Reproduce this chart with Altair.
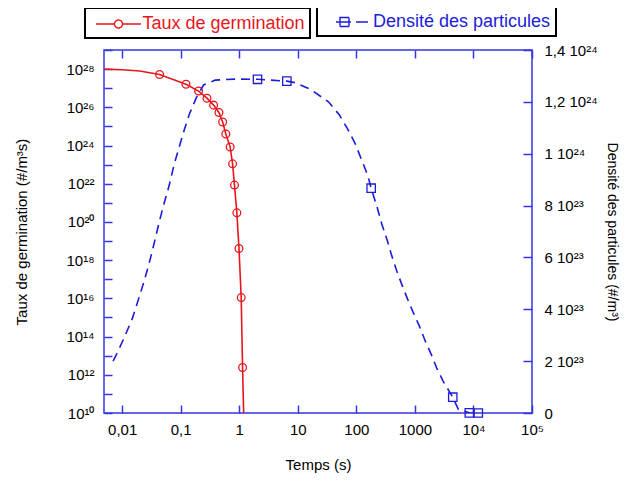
import altair as alt
import pandas as pd

# ---------------- data ----------------
red_t = [0.0049, 0.01, 0.02, 0.0436, 0.123, 0.202, 0.281, 0.365, 0.45, 0.52,
         0.59, 0.70, 0.77, 0.83, 0.91, 0.99, 1.08, 1.14, 1.19]
red_g = [1.0e28, 9.3e27, 7.9e27, 5.2e27, 1.6e27, 7.1e26, 3.0e26, 1.3e26, 5.4e25, 1.7e25,
         4.0e24, 8.3e23, 1.1e23, 8.5e21, 3.0e20, 4.1e18, 1.1e16, 2.4e12, 1.0e10]
red_mark = [0, 0, 0, 1, 1, 1, 1, 1, 1, 1,
            1, 1, 1, 1, 1, 1, 1, 1, 0]

blue_t = [0.0070, 0.0085, 0.0108, 0.0148, 0.0188, 0.0238, 0.0296, 0.0357, 0.0431, 0.0527,
          0.064, 0.0776, 0.096, 0.117, 0.142, 0.185, 0.246, 0.39, 0.91, 2.05,
          6.5, 9.0, 16.3, 33.4, 51.5, 71.6, 95.5, 124, 157, 179,
          229, 272, 339, 403, 490, 597, 744, 942, 1194, 1512,
          1910, 2363, 3063, 4434, 5523, 8500, 12100]
blue_n = [2.0e23, 2.38e23, 2.9e23, 3.62e23, 4.35e23, 5.09e23, 5.86e23, 6.6e23, 7.38e23, 8.13e23,
          8.8e23, 9.6e23, 1.032e24, 1.097e24, 1.155e24, 1.216e24, 1.265e24, 1.284e24, 1.288e24, 1.287e24,
          1.28e24, 1.274e24, 1.249e24, 1.2e24, 1.149e24, 1.094e24, 1.039e24, 9.74e23, 9.16e23, 8.67e23,
          7.9e23, 7.29e23, 6.64e23, 6.06e23, 5.48e23, 4.96e23, 4.41e23, 3.86e23, 3.35e23, 2.76e23,
          2.25e23, 1.73e23, 1.21e23, 6.1e22, 1.4e22, 5.0e20, 1.0e19]
blue_mark = [0, 0, 0, 0, 0, 0, 0, 0, 0, 0,
             0, 0, 0, 0, 0, 0, 0, 0, 0, 1,
             1, 0, 0, 0, 0, 0, 0, 0, 0, 1,
             0, 0, 0, 0, 0, 0, 0, 0, 0, 0,
             0, 0, 0, 1, 0, 1, 1]

x_ticks = [0.01, 0.1, 1, 10, 100, 1000, 1e4, 1e5]
y_left_ticks = [1e10, 1e11, 1e12, 1e13, 1e14, 1e15, 1e16, 1e17, 1e18, 1e19,
                1e20, 1e21, 1e22, 1e23, 1e24, 1e25, 1e26, 1e27, 1e28, 1e29]
y_right_ticks = [0, 2e23, 4e23, 6e23, 8e23, 1e24, 1.2e24, 1.4e24]

RED_NAME = "Taux de germination"
BLUE_NAME = "Densité des particules"

red_df = pd.DataFrame({"t": red_t, "g": red_g, "m": red_mark, "serie": RED_NAME})
blue_df = pd.DataFrame({"t": blue_t, "n": blue_n, "m": blue_mark, "serie": BLUE_NAME})

# ---------------- style ----------------
RED = "#e8161b"
BLUE = "#1c1cd8"
AXIS_BLUE = "#3434e0"
FONT = "Liberation Sans"

SUP = "['⁰','¹','²','³','⁴','⁵','⁶','⁷','⁸','⁹']"
E = "round(log(datum.value)/LN10)"
left_expr = f"{E} % 2 == 0 ? '10' + {SUP}[floor({E}/10)] + {SUP}[{E} % 10] : ''"
M = "round(datum.value/1e23)"
right_expr = (f"{M} == 0 ? '0' : {M} < 10 ? {M} + ' 10²³' : "
              f"replace(format({M}/10, '.1~f'), '.', ',') + ' 10²⁴'")
x_expr = ("datum.value < 0.05 ? '0,01' : datum.value < 0.5 ? '0,1' : "
          "datum.value < 5000 ? format(datum.value, 'd') : "
          "datum.value < 50000 ? '10⁴' : '10⁵'")

tick_style = dict(domain=False, grid=False, tickColor=AXIS_BLUE, tickWidth=1.5)
text_style = dict(labelFont=FONT, labelFontSize=15, labelColor="black",
                  titleFont=FONT, titleFontSize=15, titleFontWeight="normal",
                  titleColor="black", labelFlush=False, labelOverlap=False)

ax_bottom = alt.Axis(orient="bottom", values=x_ticks, labelExpr=x_expr, title="Temps (s)",
                     offset=-8, tickSize=8, labelPadding=9, titlePadding=20,
                     **tick_style, **text_style)
ax_top = alt.Axis(orient="top", values=x_ticks, labels=False, title=None,
                  offset=-8, tickSize=8, **tick_style)
ax_left = alt.Axis(orient="left", values=y_left_ticks, labelExpr=left_expr,
                   title="Taux de germination (#/m³s)", offset=-8, tickSize=8,
                   labelPadding=10, titlePadding=36, **tick_style, **text_style)
ax_right = alt.Axis(orient="right", values=y_right_ticks, labelExpr=right_expr,
                    title="Densité des particules (#/m³)", offset=-9, tickSize=9,
                    labelPadding=12, titlePadding=7,
                    **tick_style, **{**text_style, "titleFontSize": 14})

x_scale = alt.Scale(type="log", domain=[0.0049, 1e5], nice=False)
yl_scale = alt.Scale(type="log", domain=[1e10, 1e29], nice=False)
yr_scale = alt.Scale(domain=[0, 1.4e24], nice=False, zero=True)

RED_PATH = "M-2.25,0H-0.4M0.4,0H2.25M-0.4,0A0.4,0.4,0,1,1,0.4,0A0.4,0.4,0,1,1,-0.4,0Z"
BLUE_PATH = "M-1.6,0H-1.2M-0.3,0H-0.1M0.4,0H1.6M-1.2,-0.45H-0.3V0.45H-1.2ZM-1.2,0H-0.3"

legend_common = dict(title=None, orient="none", direction="vertical",
                     strokeColor="black", fillColor="white",
                     padding=5, cornerRadius=0, symbolSize=400, symbolStrokeWidth=1.4,
                     symbolFillColor="white", symbolDash=[1, 0],
                     labelFont=FONT, labelFontSize=18, labelLimit=400)

leg_red = alt.Legend(legendX=-19, legendY=-42, symbolType=RED_PATH, symbolOffset=17.5,
                     labelOffset=13, labelColor=RED, **legend_common)
leg_blue = alt.Legend(legendX=213, legendY=-44, symbolType=BLUE_PATH, symbolOffset=19,
                      labelOffset=10, labelColor=BLUE, **legend_common)

X_b = alt.X("t:Q", scale=x_scale, axis=ax_bottom)
X_t = alt.X("t:Q", scale=x_scale, axis=ax_top)
Y_l = alt.Y("g:Q", scale=yl_scale, axis=ax_left)
Y_r = alt.Y("n:Q", scale=yr_scale, axis=ax_right)

red_line = alt.Chart(red_df).mark_line(strokeWidth=1.6, clip=True).encode(
    x=X_b, y=Y_l,
    color=alt.Color("serie:N", scale=alt.Scale(domain=[RED_NAME], range=[RED]), legend=leg_red),
)
red_pts = alt.Chart(red_df).transform_filter("datum.m == 1").mark_point(
    shape="circle", filled=False, color=RED, size=60, strokeWidth=1.3, opacity=1
).encode(x=X_b, y=Y_l)

blue_line = alt.Chart(blue_df).mark_line(strokeWidth=1.6, strokeDash=[9, 6], clip=True).encode(
    x=X_t, y=Y_r,
    color=alt.Color("serie:N", scale=alt.Scale(domain=[BLUE_NAME], range=[BLUE]), legend=leg_blue),
)
blue_pts = alt.Chart(blue_df).transform_filter("datum.m == 1").mark_point(
    shape="square", filled=False, color=BLUE, size=70, strokeWidth=1.3, opacity=1
).encode(x=X_t, y=Y_r)

left = alt.layer(red_line, red_pts)
right = alt.layer(blue_line, blue_pts)

chart = alt.layer(left, right).resolve_scale(
    y="independent", color="independent"
).resolve_axis(x="independent", y="independent").properties(
    width=428, height=363,
    autosize=alt.AutoSizeParams(type="none"),
    padding={"left": 96, "top": 42, "right": 90, "bottom": 61},
    background="white",
).configure_view(stroke=AXIS_BLUE, strokeWidth=1.5).configure_legend(strokeWidth=2)

chart.save("out.html", embed_options={"renderer": "svg", "actions": False})
